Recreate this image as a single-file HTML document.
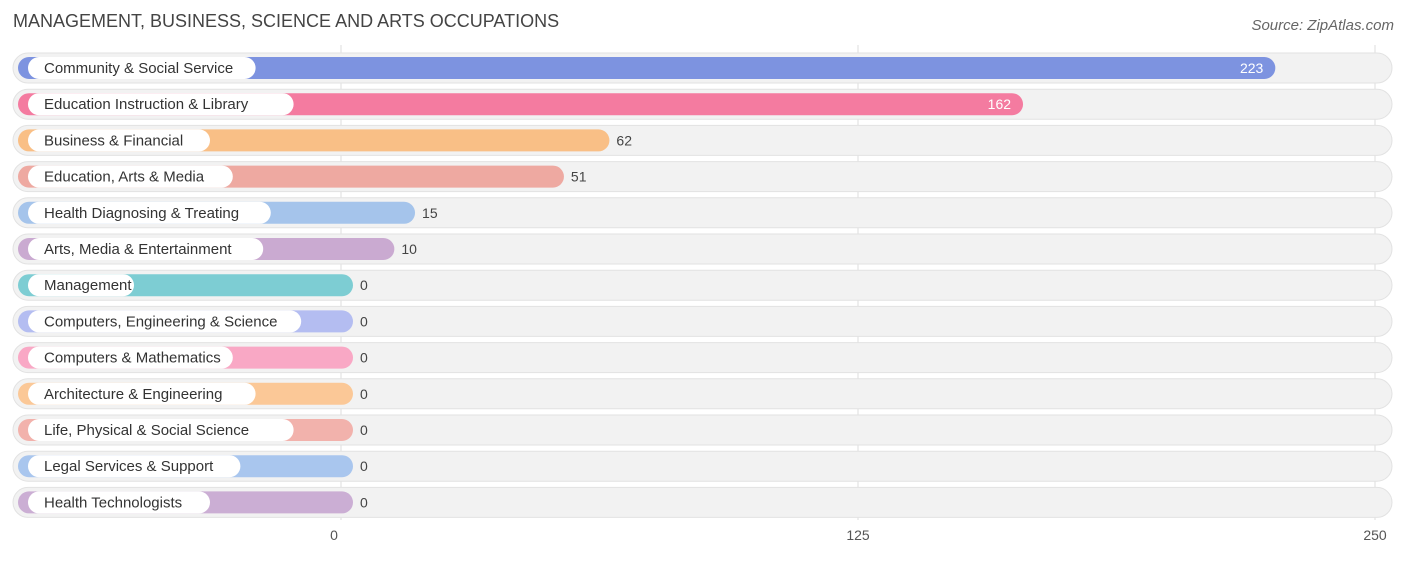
<!DOCTYPE html>
<html><head><meta charset="utf-8"><style>
body{margin:0;background:#fff;font-family:"Liberation Sans",sans-serif;}
svg text{font-family:"Liberation Sans",sans-serif;}
</style></head><body>
<svg width="1406" height="558">
<text x="13" y="27" font-size="18" fill="#444">MANAGEMENT, BUSINESS, SCIENCE AND ARTS OCCUPATIONS</text>
<text x="1394" y="30" font-size="15" fill="#666" font-style="italic" text-anchor="end">Source: ZipAtlas.com</text>
<g id="grid"></g><g id="rows"></g><g id="ticks"></g>
</svg>
<script>
const categories=["Community & Social Service","Education Instruction & Library","Business & Financial","Education, Arts & Media","Health Diagnosing & Treating","Arts, Media & Entertainment","Management","Computers, Engineering & Science","Computers & Mathematics","Architecture & Engineering","Life, Physical & Social Science","Legal Services & Support","Health Technologists"];
const values=[223,162,62,51,15,10,0,0,0,0,0,0,0];
const tickValues=[0,125,250];
const colors=["#7d93e0","#f47ba0","#f9bf86","#eea9a1","#a5c4eb","#caaad1","#7dcdd3","#b4bdf1","#f9a8c5","#fbc897","#f2b2ac","#a9c6ee","#cbaed4"];
const NS="http://www.w3.org/2000/svg";
const x=v=>341+v*517/125;
const y=i=>68+i*36.2;
function mk(t,a,p){const e=document.createElementNS(NS,t);for(const k in a)e.setAttribute(k,a[k]);p.appendChild(e);return e;}
const grid=document.getElementById('grid'),rows=document.getElementById('rows'),ticks=document.getElementById('ticks');
tickValues.forEach(t=>{
 const l=mk('line',{x1:x(t),x2:x(t),y1:45,y2:520,stroke:'#ddd','stroke-width':1},grid);
 
 
 const tx=mk('text',{x:x(t)-(t===0?7:0),y:540,'font-size':14,fill:'#555','text-anchor':'middle'},ticks);
 tx.textContent=t;
 
 
});
categories.forEach((c,i)=>{
 const cy=y(i);
 const g=mk('g',{},rows);
 
 
 const bg=mk('rect',{x:13,y:cy-15,width:1379,height:30,rx:15,fill:'#f2f2f2',stroke:'#e2e2e2'},g);
 
 
 const end=x(values[i])+12;
 const b=mk('rect',{x:18,y:cy-11,width:end-18,height:22,rx:11,fill:colors[i]},g);
 
 
 const lw=c.length*7.6+30;
 const p=mk('rect',{x:28,y:cy-11,width:lw,height:22,rx:11,fill:'#fff'},g);
 
 
 const t=mk('text',{x:44,y:cy+5,'font-size':15,fill:'#333'},g);
 t.textContent=c;
 
 
 const inside=values[i]>100;
 const v=mk('text',{x:inside?end-12:end+7,y:cy+5,'font-size':14,fill:inside?'#fff':'#444','text-anchor':inside?'end':'start'},g);
 v.textContent=values[i];
 
 
});
</script>
</body></html>
